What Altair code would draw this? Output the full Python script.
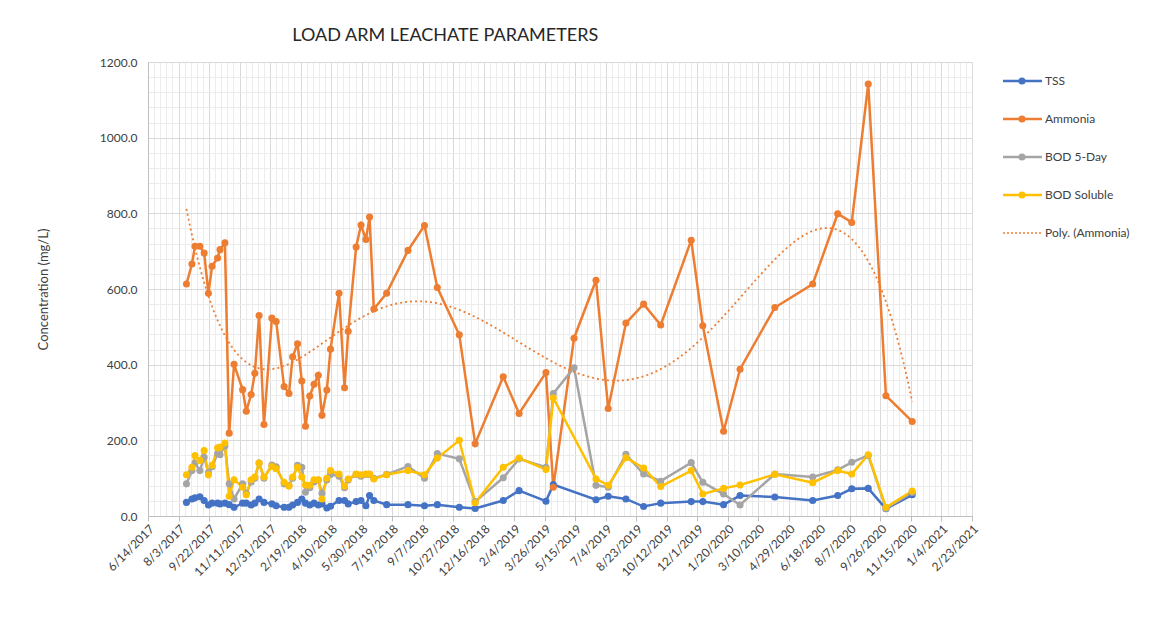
import altair as alt
import pandas as pd
import numpy as np

# ---------------- data ----------------
dates = [
    "2017-08-16", "2017-08-25", "2017-08-30", "2017-09-07", "2017-09-14", "2017-09-21", "2017-09-27", "2017-10-06", "2017-10-10", "2017-10-18",
    "2017-10-25", "2017-11-02", "2017-11-16", "2017-11-22", "2017-11-30", "2017-12-06", "2017-12-13", "2017-12-21", "2018-01-03", "2018-01-10",
    "2018-01-23", "2018-01-31", "2018-02-06", "2018-02-14", "2018-02-21", "2018-02-27", "2018-03-06", "2018-03-13", "2018-03-20", "2018-03-26",
    "2018-04-03", "2018-04-09", "2018-04-23", "2018-05-02", "2018-05-08", "2018-05-21", "2018-05-29", "2018-06-06", "2018-06-12", "2018-06-19",
    "2018-07-10", "2018-08-14", "2018-09-10", "2018-10-01", "2018-11-06", "2018-12-02", "2019-01-17", "2019-02-12", "2019-03-28", "2019-04-09",
    "2019-05-13", "2019-06-18", "2019-07-08", "2019-08-06", "2019-09-04", "2019-10-02", "2019-11-21", "2019-12-10", "2020-01-13", "2020-02-09",
    "2020-04-06", "2020-06-07", "2020-07-18", "2020-08-10", "2020-09-06", "2020-10-05", "2020-11-17",
]

ammonia = [
    613, 666, 713, 713, 695, 589, 660, 682, 704, 722,
    219, 401, 334, 277, 321, 377, 530, 242, 523, 514,
    342, 324, 421, 455, 357, 237, 317, 348, 372, 266,
    333, 441, 589, 339, 488, 711, 769, 731, 790, 547,
    589, 702, 768, 604, 479, 191, 368, 271, 379, 76,
    470, 623, 284, 510, 560, 505, 729, 503, 224, 388,
    551, 613, 799, 776, 1142, 318, 250,
]

tss = [
    36, 45, 48, 51, 41, 29, 34, 34, 32, 34,
    30, 23, 34, 34, 29, 34, 45, 36, 32, 27,
    23, 23, 29, 36, 45, 34, 29, 34, 29, 32,
    21, 26, 41, 41, 32, 38, 41, 27, 54, 41,
    30, 30, 27, 30, 23, 20, 41, 67, 39, 83,
    None, 43, 52, 45, 25, 34, 38, 38, 30, 54,
    50, 41, 54, 72, 73, 19, 56,
]

bod5 = [
    85, 120, 140, 120, 155, 115, 130, 165, 162, 185,
    85, 45, 85, 60, 90, 100, 140, 100, 135, 130,
    85, 80, 100, 134, 129, 63, 75, 90, 95, 60,
    95, 110, 105, 75, 95, 110, 105, 110, 110, 100,
    110, 131, 100, 165, 151, 38, 101, 151, 129, 324,
    392, 81, 76, 163, 111, 92, 141, 89, 58, 29,
    111, 103, 122, 142, 160, 20, 62,
]

bod_soluble = [
    109, 129, 160, 147, 173, 109, 134, 180, 182, 193,
    52, 96, 76, 56, 96, 103, 140, 103, 131, 125,
    89, 79, 103, 129, 103, 82, 81, 96, 96, 45,
    100, 120, 111, 79, 98, 111, 109, 111, 111, 98,
    109, 120, 109, 153, 200, 35, 129, 153, 123, 312,
    None, 98, 81, 154, 127, 78, 120, 58, 73, 82,
    110, 88, 120, 111, 162, 23, 66,
]

series_names = ["TSS", "Ammonia", "BOD 5-Day", "BOD Soluble"]
series_colors = ["#4472C4", "#ED7D31", "#A5A5A5", "#FFC000"]
trend_name = "Poly. (Ammonia)"
trend_color = "#ED7D31"

x_start = "2017-06-14"
x_end = "2021-02-23"
y_major = [0, 200, 400, 600, 800, 1000, 1200]
y_minor = list(range(0, 1201, 40))

# ---------------- tables ----------------
rows = []
for name, vals in zip(series_names, [tss, ammonia, bod5, bod_soluble]):
    for d, v in zip(dates, vals):
        if v is not None:
            rows.append({"date": pd.Timestamp(d), "value": v, "series": name,
                         "order": series_names.index(name)})
df = pd.DataFrame(rows)

# polynomial (order 6) trendline of Ammonia, as Excel draws it
base_day = pd.Timestamp(x_start)
days = np.array([(pd.Timestamp(d) - base_day).days for d in dates], dtype=float)
coef = np.polyfit(days / 100.0, np.array(ammonia, dtype=float), 6)
grid_days = np.linspace(days.min(), days.max(), 240)
trend_df = pd.DataFrame({
    "date": [base_day + pd.Timedelta(days=float(g)) for g in grid_days],
    "value": np.polyval(coef, grid_days / 100.0),
    "series": trend_name,
})

major_dates = pd.date_range(x_start, x_end, freq="50D")
minor_dates = pd.date_range(x_start, x_end, freq="10D")


def dt(t):
    return alt.DateTime(year=t.year, month=t.month, date=t.day)


x_major_vals = [dt(t) for t in major_dates]
x_minor_vals = [dt(t) for t in minor_dates]

FONT = "Lato"
LABEL_COLOR = "#404040"

x_scale = alt.Scale(domain=[dt(pd.Timestamp(x_start)), dt(pd.Timestamp(x_end))])
y_scale = alt.Scale(domain=[0, 1200], nice=False)
color_scale = alt.Scale(domain=series_names + [trend_name],
                        range=series_colors + [trend_color])

# minor grid layer
minor = alt.Chart(df).mark_line(opacity=0).encode(
    x=alt.X("date:T", scale=x_scale,
            axis=alt.Axis(values=x_minor_vals, grid=True, gridColor="#ececec",
                          gridWidth=1, labels=False, ticks=False, domain=False,
                          title=None, orient="bottom")),
    y=alt.Y("value:Q", scale=y_scale,
            axis=alt.Axis(values=y_minor, grid=True, gridColor="#ececec",
                          gridWidth=1, labels=False, ticks=False, domain=False,
                          title=None, orient="left")),
    detail="series:N",
)

lines = alt.Chart(df).mark_line(strokeWidth=2.5).encode(
    x=alt.X("date:T", scale=x_scale,
            axis=alt.Axis(values=x_major_vals, grid=True, gridColor="#d9d9d9",
                          domainColor="#bfbfbf", tickColor="#bfbfbf", tickSize=5,
                          labelAngle=-45, labelFont=FONT, labelFontSize=12,
                          labelColor=LABEL_COLOR, labelPadding=2,
                          labelOverlap=False,
                          labelExpr="timeFormat(datum.value, '%-m/%-d/%Y')",
                          title=None, orient="bottom")),
    y=alt.Y("value:Q", scale=y_scale,
            axis=alt.Axis(values=y_major, grid=True, gridColor="#d9d9d9",
                          domainColor="#bfbfbf", ticks=False, format=".1f",
                          labelFont=FONT, labelFontSize=12, labelColor=LABEL_COLOR,
                          labelPadding=11, title="Concentration (mg/L)",
                          titleFont=FONT, titleFontSize=13, titleFontWeight="normal",
                          titleColor=LABEL_COLOR, titlePadding=49, orient="left")),
    color=alt.Color("series:N", scale=color_scale, legend=None),
    order=alt.Order("order:Q"),
    detail="series:N",
)

points = alt.Chart(df).mark_circle(size=50, opacity=1).encode(
    x=alt.X("date:T", scale=x_scale, axis=None),
    y=alt.Y("value:Q", scale=y_scale, axis=None),
    color=alt.Color("series:N", scale=color_scale, legend=None),
    order=alt.Order("order:Q"),
)

trend = alt.Chart(trend_df).mark_line(strokeWidth=1.8, strokeDash=[2, 3],
                                      color=trend_color).encode(
    x=alt.X("date:T", scale=x_scale, axis=None),
    y=alt.Y("value:Q", scale=y_scale, axis=None),
)

main = alt.layer(minor, lines, points, trend).resolve_axis(
    x="independent", y="independent"
).properties(width=824, height=454)

# ---------------- legend panel ----------------
legend_labels = series_names + [trend_name]
legend_df = pd.DataFrame({
    "label": legend_labels,
    "idx": list(range(len(legend_labels))),
    "style": ["solid", "solid", "solid", "solid", "dot"],
    "marker": [True, True, True, True, False],
})
leg_y = alt.Y("idx:Q", scale=alt.Scale(domain=[0, 4], range=[19, 171]), axis=None)
leg_color = alt.Color("label:N", scale=color_scale, legend=None)

leg_rule = alt.Chart(legend_df).mark_rule().encode(
    y=leg_y, x=alt.value(31), x2=alt.value(70), color=leg_color,
    strokeDash=alt.StrokeDash("style:N", scale=alt.Scale(domain=["solid", "dot"],
                              range=[[1, 0], [2, 2]]), legend=None),
    strokeWidth=alt.StrokeWidth("style:N", scale=alt.Scale(domain=["solid", "dot"],
                                range=[2.5, 1.5]), legend=None),
)
leg_pt = alt.Chart(legend_df).transform_filter("datum.marker").mark_circle(
    size=50, opacity=1).encode(y=leg_y, x=alt.value(50), color=leg_color)
leg_txt = alt.Chart(legend_df).mark_text(
    align="left", baseline="middle", font=FONT, fontSize=12, color=LABEL_COLOR
).encode(y=leg_y, x=alt.value(73), text="label:N")

legend = alt.layer(leg_rule, leg_pt, leg_txt).properties(width=160, height=454)

chart = alt.hconcat(main, legend, spacing=0, bounds="flush").resolve_scale(
    color="independent", strokeDash="independent", strokeWidth="independent",
    y="independent"
).properties(
    title=alt.TitleParams("LOAD ARM LEACHATE PARAMETERS", anchor="start", dx=255,
                          font=FONT, fontSize=18, fontWeight="normal",
                          color="#262626", offset=11),
    padding={"left": 37, "top": 27, "right": 10, "bottom": 5},
    background="white",
).configure_view(stroke=None)

chart.save("out.html", embed_options={"renderer": "svg", "actions": False})
